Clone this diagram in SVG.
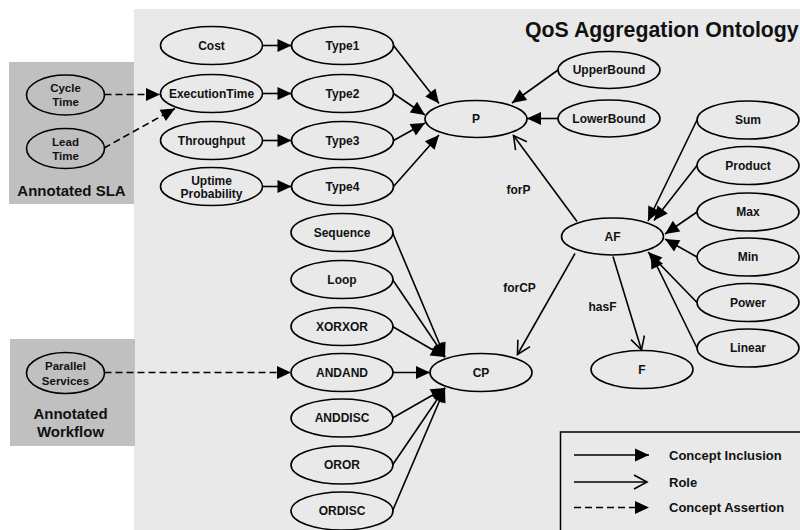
<svg xmlns="http://www.w3.org/2000/svg" width="800" height="530" viewBox="0 0 800 530">
<style>
.n ellipse{fill:none;stroke:#000;stroke-width:1.6}
.t{font-family:"Liberation Sans",Arial,sans-serif;font-weight:bold;font-size:12px;text-anchor:middle;fill:#111}
.s{font-size:11.5px}
.u{font-size:12px}
.c line{stroke:#000;stroke-width:1.6;fill:none}
.inc{marker-end:url(#fa)}
.role{marker-end:url(#oa)}
.asr{marker-end:url(#fa);stroke-dasharray:7 4}
.lg{font-family:"Liberation Sans",Arial,sans-serif;font-weight:bold;font-size:13px;fill:#111}
</style>
<defs>
<marker id="fa" markerUnits="userSpaceOnUse" markerWidth="16" markerHeight="16" refX="14" refY="6.5" orient="auto" overflow="visible">
<path d="M0,0 L14,6.5 L0,13 z" fill="#000"/>
</marker>
<marker id="oa" markerUnits="userSpaceOnUse" markerWidth="16" markerHeight="16" refX="13" refY="7" orient="auto" overflow="visible">
<path d="M0,0 L13,7 L0,14" fill="none" stroke="#000" stroke-width="1.6"/>
</marker>
</defs>
<rect x="0" y="0" width="800" height="530" fill="#fff"/>
<rect x="134" y="9" width="666" height="521" fill="#e9e9e9"/>
<rect x="9" y="62" width="125" height="142" fill="#c0c0c0"/>
<rect x="10" y="339" width="125" height="107" fill="#c0c0c0"/>
<text x="525" y="37" font-family="Liberation Sans,Arial,sans-serif" font-weight="bold" font-size="21.3" fill="#111">QoS Aggregation Ontology</text>
<text class="t" x="71.5" y="196" style="font-size:15px">Annotated SLA</text>
<text class="t" x="70.5" y="419" style="font-size:15px">Annotated</text>
<text class="t" x="70.5" y="437" style="font-size:15px">Workflow</text>

<rect x="560.5" y="432" width="260" height="120" fill="none" stroke="#000" stroke-width="1.5"/>

<g id="connectors" class="c">
<line class="inc" x1="262.5" y1="45.5" x2="291.5" y2="45.5"/>
<line class="inc" x1="262.5" y1="93.5" x2="291.5" y2="93.5"/>
<line class="inc" x1="262.5" y1="140.5" x2="291.5" y2="140.5"/>
<line class="inc" x1="262.5" y1="186.5" x2="291.5" y2="186.5"/>
<line class="inc" x1="393.5" y1="45.5" x2="439" y2="103.5"/>
<line class="inc" x1="393.5" y1="93.5" x2="425" y2="115"/>
<line class="inc" x1="393.5" y1="140.5" x2="425" y2="123"/>
<line class="inc" x1="393.5" y1="186.5" x2="439" y2="135"/>
<line class="inc" x1="558" y1="70" x2="512" y2="103"/>
<line class="inc" x1="558" y1="118.5" x2="527" y2="118.5"/>
<line class="role" x1="577" y1="221.5" x2="513.5" y2="135.5"/>
<line class="role" x1="575" y1="253.5" x2="517.5" y2="354.5"/>
<line class="role" x1="613" y1="256.5" x2="641.5" y2="350"/>
<line class="inc" x1="697" y1="120" x2="648" y2="221"/>
<line class="inc" x1="697" y1="165.5" x2="654" y2="220.5"/>
<line class="inc" x1="697" y1="212" x2="665" y2="234"/>
<line class="inc" x1="697" y1="257" x2="665" y2="239"/>
<line class="inc" x1="697" y1="302.5" x2="648" y2="252"/>
<line class="inc" x1="697" y1="348" x2="651" y2="254"/>
<line class="inc" x1="392.5" y1="232.5" x2="445" y2="357"/>
<line class="inc" x1="392.5" y1="279.5" x2="445" y2="357"/>
<line class="inc" x1="392.5" y1="326.5" x2="445" y2="357"/>
<line class="inc" x1="392.5" y1="372.5" x2="430" y2="372.5"/>
<line class="inc" x1="392.5" y1="418" x2="445" y2="388"/>
<line class="inc" x1="392.5" y1="465" x2="445" y2="388"/>
<line class="inc" x1="392.5" y1="511" x2="445" y2="388"/>
<line class="asr" x1="104.5" y1="94.5" x2="160" y2="94.5"/>
<line class="asr" x1="104" y1="148" x2="175" y2="108.5"/>
<line class="asr" x1="104.5" y1="372.5" x2="291" y2="372.5"/>
<text class="t" x="518.5" y="194">forP</text>
<text class="t" x="519.5" y="292">forCP</text>
<text class="t" x="602.5" y="311">hasF</text>
</g>

<g id="legend" class="c">
<line class="inc" x1="574" y1="455" x2="649" y2="455"/>
<line class="role" x1="574" y1="482" x2="647" y2="482"/>
<line class="asr" x1="574" y1="507.5" x2="649" y2="507.5"/>
<text class="lg" x="669" y="459.5">Concept Inclusion</text>
<text class="lg" x="669" y="486.5">Role</text>
<text class="lg" x="669" y="512">Concept Assertion</text>
</g>

<g id="Cost" class="n"><ellipse cx="211.5" cy="45.5" rx="51" ry="19"/><text class="t" x="211.5" y="49.5">Cost</text></g>
<g id="ExecutionTime" class="n"><ellipse cx="211.5" cy="93.5" rx="51" ry="19"/><text class="t" x="211.5" y="97.5">ExecutionTime</text></g>
<g id="Throughput" class="n"><ellipse cx="211.5" cy="140.5" rx="51" ry="19"/><text class="t" x="211.5" y="144.5">Throughput</text></g>
<g id="UptimeProbability" class="n"><ellipse cx="211.5" cy="186.5" rx="51" ry="19"/><text class="t u" x="211.5" y="185">Uptime</text><text class="t u" x="211.5" y="197.5">Probability</text></g>
<g id="Type1" class="n"><ellipse cx="342.5" cy="45.5" rx="51" ry="19"/><text class="t" x="342.5" y="49.5">Type1</text></g>
<g id="Type2" class="n"><ellipse cx="342.5" cy="93.5" rx="51" ry="19"/><text class="t" x="342.5" y="97.5">Type2</text></g>
<g id="Type3" class="n"><ellipse cx="342.5" cy="140.5" rx="51" ry="19"/><text class="t" x="342.5" y="144.5">Type3</text></g>
<g id="Type4" class="n"><ellipse cx="342.5" cy="186.5" rx="51" ry="19"/><text class="t" x="342.5" y="190.5">Type4</text></g>
<g id="P" class="n"><ellipse cx="476" cy="119" rx="51" ry="18.5"/><text class="t" x="476" y="123">P</text></g>
<g id="UpperBound" class="n"><ellipse cx="609" cy="70" rx="51" ry="18.5"/><text class="t" x="609" y="74">UpperBound</text></g>
<g id="LowerBound" class="n"><ellipse cx="609" cy="118.5" rx="51" ry="18.5"/><text class="t" x="609" y="122.5">LowerBound</text></g>
<g id="Sum" class="n"><ellipse cx="748" cy="120" rx="51" ry="19"/><text class="t" x="748" y="124">Sum</text></g>
<g id="Product" class="n"><ellipse cx="748" cy="165.5" rx="51" ry="19"/><text class="t" x="748" y="169.5">Product</text></g>
<g id="Max" class="n"><ellipse cx="748" cy="212" rx="51" ry="19"/><text class="t" x="748" y="216">Max</text></g>
<g id="Min" class="n"><ellipse cx="748" cy="257" rx="51" ry="19"/><text class="t" x="748" y="261">Min</text></g>
<g id="Power" class="n"><ellipse cx="748" cy="302.5" rx="51" ry="19"/><text class="t" x="748" y="306.5">Power</text></g>
<g id="Linear" class="n"><ellipse cx="748" cy="348" rx="51" ry="19"/><text class="t" x="748" y="352">Linear</text></g>
<g id="AF" class="n"><ellipse cx="612.5" cy="236.5" rx="51" ry="18.5"/><text class="t" x="612.5" y="240.5">AF</text></g>
<g id="F" class="n"><ellipse cx="642" cy="369.5" rx="51" ry="19"/><text class="t" x="642" y="373.5">F</text></g>
<g id="CP" class="n"><ellipse cx="481" cy="372.5" rx="51" ry="19"/><text class="t" x="481" y="376.5">CP</text></g>
<g id="Sequence" class="n"><ellipse cx="342" cy="232.5" rx="51" ry="19"/><text class="t" x="342" y="236.5">Sequence</text></g>
<g id="Loop" class="n"><ellipse cx="342" cy="279.5" rx="51" ry="19"/><text class="t" x="342" y="283.5">Loop</text></g>
<g id="XORXOR" class="n"><ellipse cx="342" cy="326.5" rx="51" ry="19"/><text class="t" x="342" y="330.5">XORXOR</text></g>
<g id="ANDAND" class="n"><ellipse cx="342" cy="372.5" rx="51" ry="19"/><text class="t" x="342" y="376.5">ANDAND</text></g>
<g id="ANDDISC" class="n"><ellipse cx="342" cy="418" rx="51" ry="19"/><text class="t" x="342" y="422">ANDDISC</text></g>
<g id="OROR" class="n"><ellipse cx="342" cy="465" rx="51" ry="19"/><text class="t" x="342" y="469">OROR</text></g>
<g id="ORDISC" class="n"><ellipse cx="342" cy="511" rx="51" ry="19"/><text class="t" x="342" y="515">ORDISC</text></g>
<g id="CycleTime" class="n"><ellipse cx="65.5" cy="95" rx="39" ry="20"/><text class="t s" x="65.5" y="92">Cycle</text><text class="t s" x="65.5" y="106">Time</text></g>
<g id="LeadTime" class="n"><ellipse cx="65.5" cy="148.5" rx="39" ry="20"/><text class="t s" x="65.5" y="145.5">Lead</text><text class="t s" x="65.5" y="159.5">Time</text></g>
<g id="ParallelServices" class="n"><ellipse cx="65.5" cy="373" rx="39" ry="20.5"/><text class="t s" x="65.5" y="369.5">Parallel</text><text class="t s" x="65.5" y="385">Services</text></g>
</svg>
